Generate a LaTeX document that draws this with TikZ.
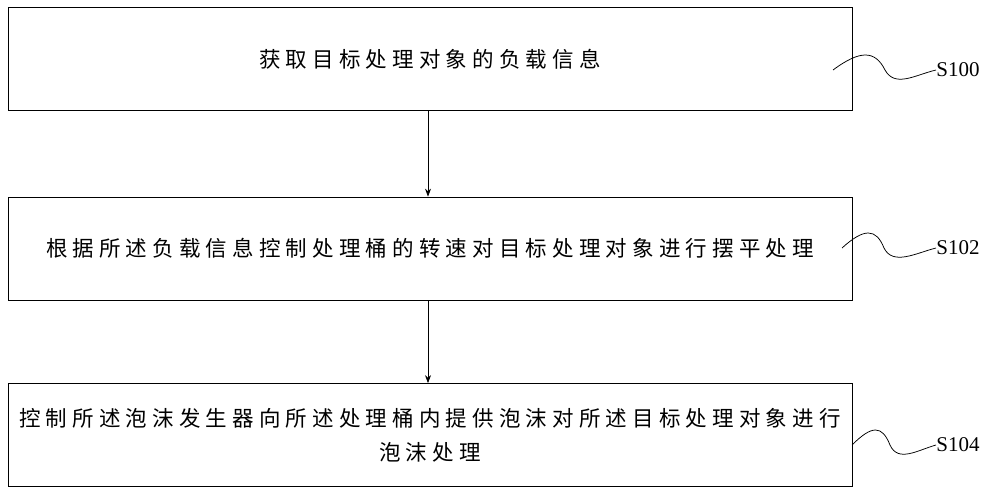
\documentclass[tikz,border=0pt]{standalone}
\usepackage{fontspec}
\setmainfont{Liberation Serif}
\newfontfamily\cjk[LetterSpace=24]{Noto Sans CJK SC}
\usetikzlibrary{arrows.meta}
\tikzset{every picture/.style={line width=0.75pt}}
\tikzset{stepbox/.style={draw,minimum width=844pt,minimum height=103pt,inner sep=0pt,align=center,font=\cjk\fontsize{21.5}{34}\selectfont}}
\tikzset{steplabel/.style={anchor=west,inner sep=0pt,font=\fontsize{21}{24}\selectfont}}

\begin{document}
\begin{tikzpicture}[x=1pt,y=1pt,yscale=-1,xscale=1]
\useasboundingbox (0,0) rectangle (1000,496);

% Boxes
\node [stepbox] (box1) at (430,59) {获取目标处理对象的负载信息};
\node [stepbox] (box2) at (430,248.5) {根据所述负载信息控制处理桶的转速对目标处理对象进行摆平处理};
\node [stepbox] (box3) at (430,435) {控制所述泡沫发生器向所述处理桶内提供泡沫对所述目标处理对象进行\\泡沫处理};

% Arrows
\draw [-{Stealth[length=8pt,width=6pt]}] (box1.south -| 428,0) -- (box2.north -| 428,0);
\draw [-{Stealth[length=8pt,width=6pt]}] (box2.south -| 428,0) -- (box3.north -| 428,0);

% Labels
\node [steplabel] (s100) at (936,70) {S100};
\node [steplabel] (s102) at (936,248) {S102};
\node [steplabel] (s104) at (936,445) {S104};

% Squiggles
\draw (833,70) .. controls (860,50) and (875,50) .. (885,70) .. controls (895,88) and (915,75) .. (s100.west);
\draw (842,248) .. controls (864,228) and (876,228) .. (884,248) .. controls (893,266) and (916,253) .. (s102.west);
\draw (852,445) .. controls (872,425) and (882,425) .. (890,445) .. controls (898,463) and (918,450) .. (s104.west);

\end{tikzpicture}
\end{document}
